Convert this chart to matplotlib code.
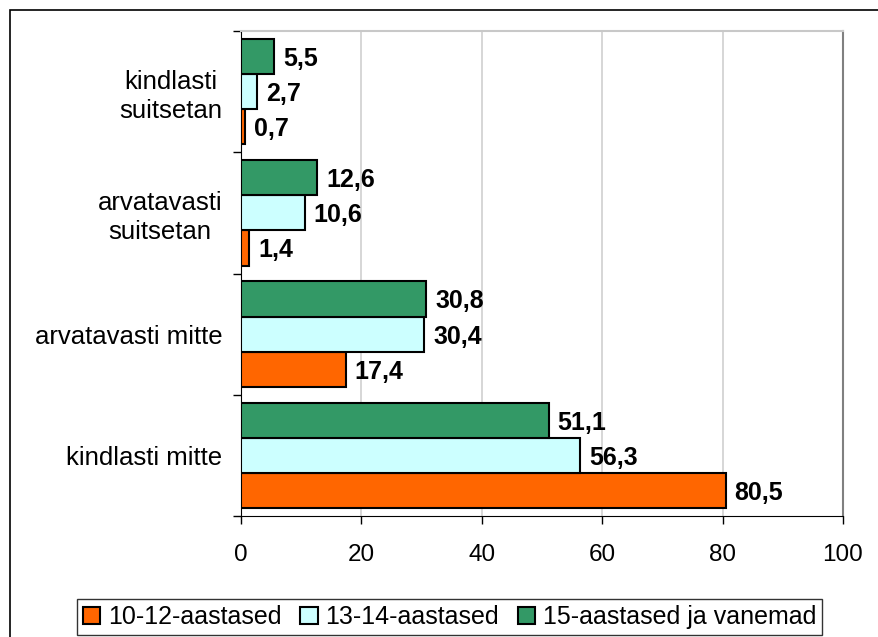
import matplotlib
matplotlib.use("Agg")
import matplotlib.pyplot as plt
import numpy as np
from matplotlib.patches import Rectangle

categories = ["kindlasti mitte", "arvatavasti mitte", "arvatavasti\nsuitsetan", "kindlasti\nsuitsetan"]
series_names = ["10-12-aastased", "13-14-aastased", "15-aastased ja vanemad"]
v_10_12 = [80.5, 17.4, 1.4, 0.7]
v_13_14 = [56.3, 30.4, 10.6, 2.7]
v_15 = [51.1, 30.8, 12.6, 5.5]
colors = ["#FF6600", "#CCFFFF", "#339966"]
xticks = [0, 20, 40, 60, 80, 100]

plt.rcParams['font.family'] = ['Liberation Sans', 'DejaVu Sans']

fig = plt.figure(figsize=(8.79, 6.37), dpi=100)
ax = fig.add_axes([241/879, 1-516/637, (843-241)/879, (516-31)/637])

# outer frame
fig.patches.append(Rectangle((10/879, -0.05), 1.0, 1-10/637+0.05, transform=fig.transFigure,
                             fill=False, edgecolor='black', linewidth=1.2, zorder=0))

y = np.arange(len(categories))
h = 0.29
series = [v_10_12, v_13_14, v_15]
offsets = [-h, 0, h]
for vals, col, off, name in zip(series, colors, offsets, series_names):
    ax.barh(y + off, vals, height=h, color=col, edgecolor='black', linewidth=1.5, label=name, zorder=3)
    for yy, v in zip(y + off, vals):
        ax.text(v + 1.5, yy - 0.02, f"{v:.1f}".replace('.', ','), va='center', ha='left',
                fontsize=18, fontweight='bold', zorder=4)

ax.set_xlim(0, 100)
ax.set_ylim(-0.5, len(categories) - 0.5)
ax.set_xticks(xticks)
ax.set_xticklabels([str(t) for t in xticks], fontsize=17.5)
ax.set_yticks(y)
ax.set_yticklabels(categories, fontsize=18.5, ha='right', multialignment='center', linespacing=1.25)
ax.tick_params(axis='y', length=0, pad=13.5)
ax.set_yticks(np.arange(len(categories) + 1) - 0.5, minor=True)
ax.tick_params(axis='y', which='minor', length=6, width=1, direction='out')
ax.tick_params(axis='x', length=6, width=1, direction='out', pad=14)
ax.xaxis.grid(True, color='#D0D0D0', linewidth=1.2, zorder=0)
ax.set_axisbelow(True)
ax.spines['left'].set_color('black')
ax.spines['bottom'].set_color('black')
ax.spines['top'].set_color('#C8C8C8')
ax.spines['right'].set_color('#808080')
ax.spines['right'].set_linewidth(1.5)
ax.spines['top'].set_linewidth(1.5)

handles, labels = ax.get_legend_handles_labels()
leg = fig.legend(handles, labels, loc='center', bbox_to_anchor=(449.5/879, 1-617/637), ncol=3,
                 fontsize=18, frameon=True, fancybox=False, edgecolor='black',
                 handlelength=0.7, handleheight=0.7, handletextpad=0.3, columnspacing=0.75,
                 borderpad=0.25)
leg.get_frame().set_linewidth(1.0)

fig.savefig("out.png", dpi=100)
